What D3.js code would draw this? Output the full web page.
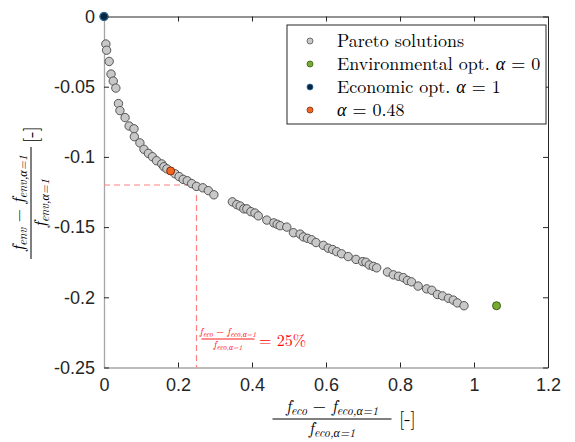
<!DOCTYPE html>
<html><head><meta charset="utf-8">
<script src="https://cdn.jsdelivr.net/npm/d3@7"></script>
<style>body{margin:0;background:#fff}</style>
</head><body>
<script>
// ---- data ----
const paretoX = [0,0.005,0.007,0.014,0.019,0.025,0.032,0.039,0.043,0.057,0.068,0.081,0.082,0.097,0.108,0.120,0.131,0.142,0.156,0.162,0.170,0.192,0.203,0.214,0.225,0.237,0.250,0.267,0.282,0.297,
0.347,0.359,0.368,0.378,0.386,0.397,0.408,0.417,0.440,0.459,0.468,0.476,0.494,0.512,0.530,0.539,0.550,0.561,0.573,0.593,0.606,0.618,0.629,0.642,0.660,0.681,0.699,0.708,0.717,0.728,0.737,
0.766,0.782,0.796,0.809,0.820,0.831,0.849,0.872,0.886,0.901,0.915,0.931,0.944,0.955,0.973];
const paretoY = [0,-0.0196,-0.024,-0.032,-0.041,-0.046,-0.051,-0.062,-0.067,-0.072,-0.078,-0.080,-0.0856,-0.090,-0.0946,-0.0975,-0.0999,-0.1027,-0.105,-0.107,-0.1085,-0.112,-0.114,-0.116,-0.117,-0.119,-0.121,-0.122,-0.124,-0.127,
-0.132,-0.134,-0.135,-0.137,-0.137,-0.139,-0.140,-0.142,-0.145,-0.147,-0.148,-0.149,-0.150,-0.154,-0.155,-0.157,-0.158,-0.159,-0.161,-0.163,-0.165,-0.166,-0.1675,-0.169,-0.171,-0.173,-0.1746,-0.175,-0.177,-0.178,-0.179,
-0.182,-0.184,-0.185,-0.186,-0.188,-0.189,-0.192,-0.194,-0.195,-0.198,-0.199,-0.2007,-0.202,-0.204,-0.206];
const envOptX = [1.061], envOptY = [-0.206];
const ecoOptX = [0], ecoOptY = [0];
const alphaX = [0.180], alphaY = [-0.110];
const xTicks = [0,0.2,0.4,0.6,0.8,1,1.2];
const xTickLabels = ["0","0.2","0.4","0.6","0.8","1","1.2"];
const yTicks = [0,-0.05,-0.1,-0.15,-0.2,-0.25];
const yTickLabels = ["0","-0.05","-0.1","-0.15","-0.2","-0.25"];
const refX = 0.25, refY = -0.12;
const seriesNames = ["Pareto solutions","Environmental opt. ","Economic opt. ",""];
const seriesAlpha = [null,"= 0","= 1","= 0.48"];
const seriesFill = ["#c8c8c8","#77ac30","#0b2740","#f26522"];
const seriesStroke = ["#555555","#3d5a1a","#1f6fa8","#7a2e10"];

// ---- layout ----
const W = 575, H = 442;
const L = 104, R = 548, T = 16.5, B = 367.5;
const x = d3.scaleLinear().domain([0,1.2]).range([L,R]);
const y = d3.scaleLinear().domain([-0.25,0]).range([B,T]);
const svg = d3.select("body").append("svg").attr("width",W).attr("height",H);
const axisCol = "#262626";
const SANS = "Liberation Sans";
const LM = "Latin Modern Roman";

// axes
const gx = svg.append("g").attr("transform",`translate(0,${B})`)
  .call(d3.axisBottom(x).tickValues(xTicks).tickFormat((d,i)=>xTickLabels[i]).tickSizeInner(-5).tickSizeOuter(0).tickPadding(11));
const gxt = svg.append("g").attr("transform",`translate(0,${T})`)
  .call(d3.axisTop(x).tickValues(xTicks).tickFormat("").tickSizeInner(-5).tickSizeOuter(0));
const gy = svg.append("g").attr("transform",`translate(${L},0)`)
  .call(d3.axisLeft(y).tickValues(yTicks).tickFormat((d,i)=>yTickLabels[i]).tickSizeInner(-5).tickSizeOuter(0).tickPadding(9));
const gyr = svg.append("g").attr("transform",`translate(${R},0)`)
  .call(d3.axisRight(y).tickValues(yTicks).tickFormat("").tickSizeInner(-5).tickSizeOuter(0));
[gx,gxt,gy,gyr].forEach(g=>{
  g.attr("font-family",SANS).attr("font-size",18);
  g.selectAll(".tick line").attr("stroke",axisCol);
  g.selectAll("text").attr("fill",axisCol);
});
gx.select(".domain").attr("stroke","#a6a6a6").attr("stroke-width",1.3);
gy.select(".domain").attr("stroke","#a6a6a6").attr("stroke-width",1.3);
gxt.select(".domain").attr("stroke",axisCol);
gyr.select(".domain").attr("stroke",axisCol);

// reference dashed lines
const dash = "6,4";
svg.append("line").attr("x1",x(0)).attr("x2",x(refX)).attr("y1",y(refY)).attr("y2",y(refY))
  .attr("stroke","#ff8080").attr("stroke-width",1.2).attr("stroke-dasharray",dash);
svg.append("line").attr("x1",x(refX)).attr("x2",x(refX)).attr("y1",y(refY)).attr("y2",y(-0.25))
  .attr("stroke","#ff8080").attr("stroke-width",1.2).attr("stroke-dasharray",dash);

// points
const pts = svg.append("g");
pts.selectAll("circle.p").data(paretoX.map((v,i)=>[v,paretoY[i]])).join("circle")
  .attr("cx",d=>x(d[0])).attr("cy",d=>y(d[1])).attr("r",4.2)
  .attr("fill",seriesFill[0]).attr("stroke",seriesStroke[0]).attr("stroke-width",1);
function special(xs,ys,k){
  pts.selectAll(null).data(xs.map((v,i)=>[v,ys[i]])).join("circle")
    .attr("cx",d=>x(d[0])).attr("cy",d=>y(d[1])).attr("r",4)
    .attr("fill",seriesFill[k]).attr("stroke",seriesStroke[k]).attr("stroke-width",1);
}
special(envOptX,envOptY,1);
special(ecoOptX,ecoOptY,2);
special(alphaX,alphaY,3);

// legend
const lg = svg.append("g").attr("font-family",LM);
lg.append("rect").attr("x",287).attr("y",25).attr("width",259).attr("height",99)
  .attr("fill","#fff").attr("stroke","#262626").attr("stroke-width",1);
seriesNames.forEach((nm,i)=>{
  const cy = 41 + i*23;
  lg.append("circle").attr("cx",310).attr("cy",cy).attr("r",3)
    .attr("fill",seriesFill[i]).attr("stroke",seriesStroke[i]).attr("stroke-width",0.8);
  const t = lg.append("text").attr("x",337).attr("y",cy+6).attr("fill","#000").attr("font-size",18);
  t.append("tspan").text(nm);
  if (seriesAlpha[i]) {
    t.append("tspan").attr("font-style","italic").text("\u03b1");
    t.append("tspan").text(" " + seriesAlpha[i]);
  }
});

// fraction helper
function fraction(g, num, den, fs, sub, lineW, col, gapN, gapD){
  g.attr("font-family",LM).attr("fill",col);
  const n = g.append("text").attr("text-anchor","middle").attr("y",-gapN).attr("font-size",fs);
  num.forEach(seg=>{
    n.append("tspan").attr("font-style",seg[1]?"italic":"normal")
      .attr("font-size",seg[2]?sub:fs).attr("dy",seg[3]||0).text(seg[0]);
  });
  g.append("line").attr("x1",-lineW/2).attr("x2",lineW/2).attr("y1",0).attr("y2",0)
    .attr("stroke",col).attr("stroke-width",fs>12?1:0.9);
  const d = g.append("text").attr("text-anchor","middle").attr("y",gapD).attr("font-size",fs);
  den.forEach(seg=>{
    d.append("tspan").attr("font-style",seg[1]?"italic":"normal")
      .attr("font-size",seg[2]?sub:fs).attr("dy",seg[3]||0).text(seg[0]);
  });
}
function numParts(s, k){ // f_s - f_s,a=1
  return [["f",1,0,0],[s,1,1,k],[" \u2212 ",0,0,-k],["f",1,0,0],[s+",\u03b1=1",1,1,k]];
}
function denParts(s,k){ return [["f",1,0,0],[s+",\u03b1=1",1,1,k]]; }

// x label
const xl = svg.append("g").attr("transform","translate(332,419)");
fraction(xl, numParts("eco",3), denParts("eco",3), 17, 12, 119, "#000", 7, 15);
svg.append("text").attr("font-family",LM).attr("x",399).attr("y",425).attr("font-size",19).text("[-]");

// y label
const yl = svg.append("g").attr("transform","translate(31,203) rotate(-90)");
fraction(yl, numParts("env",3), denParts("env",3), 17, 12, 112, "#000", 7, 15);
yl.append("text").attr("x",60).attr("y",6).attr("font-size",19).text("[-]");

// annotation
const an = svg.append("g").attr("transform","translate(228,339)");
fraction(an, numParts("eco",1.5), denParts("eco",1.5), 10, 7.5, 53, "#ff0000", 4, 9);
svg.append("text").attr("font-family",LM).attr("x",259).attr("y",346).attr("fill","#ff0000")
  .attr("font-size",16).text("= 25%");
</script>
</body></html>
